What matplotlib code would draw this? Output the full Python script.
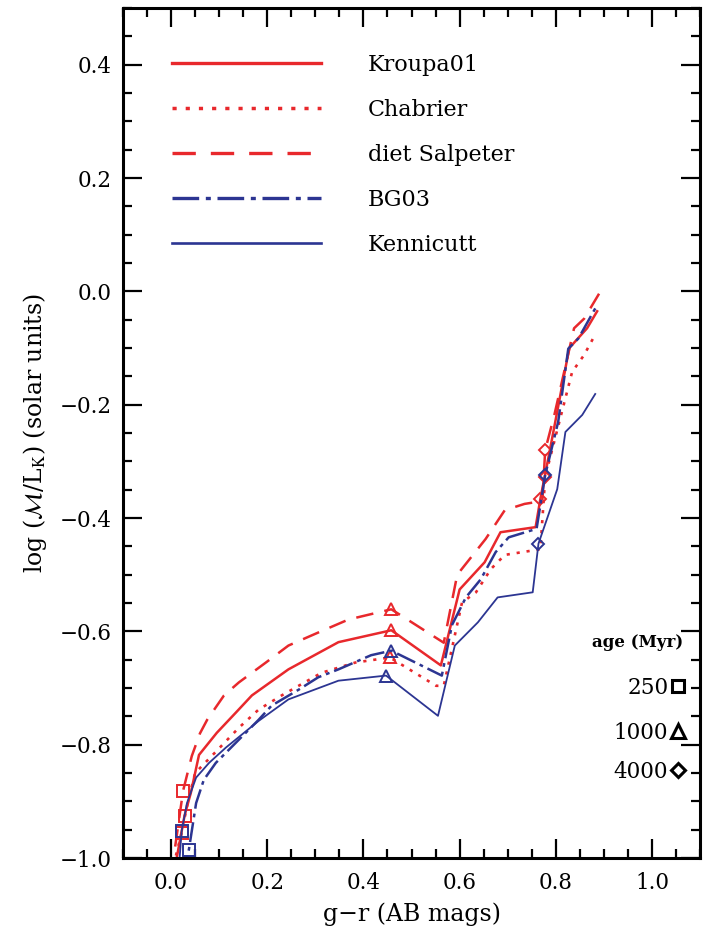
import matplotlib
matplotlib.use("Agg")
import matplotlib.pyplot as plt
from matplotlib.lines import Line2D
from matplotlib.ticker import MultipleLocator

plt.rcParams['font.family'] = ['DejaVu Serif']
plt.rcParams['mathtext.fontset'] = 'stix'

# g-r colour and log(M/L_K) tracks
kroupa_x = [0.005, 0.028, 0.041, 0.058, 0.095, 0.135, 0.168, 0.244, 0.348, 0.458,
            0.561, 0.600, 0.652, 0.685, 0.758, 0.768, 0.790, 0.828, 0.865, 0.886]
kroupa_y = [-1.03, -0.925, -0.885, -0.818, -0.779, -0.743, -0.713, -0.667, -0.619, -0.598,
            -0.660, -0.526, -0.478, -0.425, -0.416, -0.366, -0.270, -0.100, -0.065, -0.035]

chabrier_x = [0.000, 0.022, 0.035, 0.050, 0.090, 0.141, 0.182, 0.230, 0.313, 0.383, 0.455,
              0.551, 0.567, 0.605, 0.634, 0.665, 0.694, 0.768, 0.778, 0.818, 0.834, 0.859, 0.882]
chabrier_y = [-1.03, -0.955, -0.900, -0.850, -0.815, -0.770, -0.738, -0.713, -0.673, -0.655, -0.646,
              -0.696, -0.696, -0.549, -0.531, -0.490, -0.465, -0.455, -0.327, -0.195, -0.142, -0.112, -0.076]

salpeter_x = [0.000, 0.025, 0.043, 0.060, 0.075, 0.110, 0.141, 0.197, 0.244, 0.306, 0.369, 0.458,
              0.567, 0.595, 0.654, 0.694, 0.735, 0.772, 0.778, 0.797, 0.838, 0.859, 0.890]
salpeter_y = [-1.03, -0.881, -0.820, -0.780, -0.756, -0.713, -0.690, -0.655, -0.625, -0.602, -0.579, -0.561,
              -0.620, -0.500, -0.437, -0.386, -0.375, -0.370, -0.280, -0.218, -0.065, -0.048, -0.004]

bg03_x = [0.025, 0.037, 0.052, 0.068, 0.093, 0.120, 0.182, 0.209, 0.265, 0.306, 0.348, 0.416, 0.458,
          0.563, 0.584, 0.613, 0.644, 0.675, 0.702, 0.760, 0.778, 0.805, 0.826, 0.847, 0.884]
bg03_y = [-1.03, -0.985, -0.903, -0.862, -0.832, -0.809, -0.756, -0.731, -0.703, -0.681, -0.667, -0.642, -0.634,
          -0.678, -0.589, -0.540, -0.508, -0.460, -0.434, -0.419, -0.324, -0.230, -0.101, -0.083, -0.027]

kenn_x = [0.015, 0.022, 0.033, 0.052, 0.079, 0.114, 0.182, 0.244, 0.348, 0.447,
          0.555, 0.590, 0.638, 0.679, 0.752, 0.764, 0.803, 0.820, 0.855, 0.882]
kenn_y = [-1.03, -0.952, -0.903, -0.858, -0.832, -0.805, -0.758, -0.720, -0.687, -0.678,
          -0.749, -0.625, -0.584, -0.540, -0.531, -0.445, -0.349, -0.248, -0.218, -0.181]

# age markers: 250, 1000, 4000 Myr
kroupa_age_x = [0.028, 0.458, 0.768]
kroupa_age_y = [-0.925, -0.598, -0.366]
chabrier_age_x = [0.022, 0.455, 0.778]
chabrier_age_y = [-0.955, -0.646, -0.327]
salpeter_age_x = [0.025, 0.458, 0.778]
salpeter_age_y = [-0.881, -0.561, -0.280]
bg03_age_x = [0.037, 0.458, 0.778]
bg03_age_y = [-0.985, -0.634, -0.324]
kenn_age_x = [0.022, 0.447, 0.764]
kenn_age_y = [-0.952, -0.678, -0.445]

ages = ['250', '1000', '4000']
age_markers = ['s', '^', 'D']
age_msize = [8, 9, 6.5]

red = '#e8282c'
blue = '#2c3592'

models = [
    ('Kroupa01', kroupa_x, kroupa_y, kroupa_age_x, kroupa_age_y, red, '-', 1.8),
    ('Chabrier', chabrier_x, chabrier_y, chabrier_age_x, chabrier_age_y, red, (0, (1.2, 2.6)), 1.9),
    ('diet Salpeter', salpeter_x, salpeter_y, salpeter_age_x, salpeter_age_y, red, (0, (7, 4.5)), 1.8),
    ('BG03', bg03_x, bg03_y, bg03_age_x, bg03_age_y, blue, (0, (8, 2, 1.5, 2)), 1.8),
    ('Kennicutt', kenn_x, kenn_y, kenn_age_x, kenn_age_y, blue, '-', 1.3),
]

fig = plt.figure(figsize=(7.03, 9.36), dpi=100)
ax = fig.add_axes([0.175, 0.0833, 0.8208, 0.908])

handles = []
for name, x, y, ax_x, ax_y, c, ls, lw in models:
    ax.plot(x, y, color=c, ls=ls, lw=lw, clip_on=True)
    for i in range(3):
        ax.plot(ax_x[i], ax_y[i], ls='none', marker=age_markers[i], ms=age_msize[i],
                mfc='none', mec=c, mew=1.4)
    handles.append(Line2D([], [], color=c, ls=ls, lw=lw + 0.6, label=name))

ax.set_xlim(-0.1, 1.1)
ax.set_ylim(-1.0, 0.5)
ax.xaxis.set_major_locator(MultipleLocator(0.2))
ax.xaxis.set_minor_locator(MultipleLocator(0.05))
ax.yaxis.set_major_locator(MultipleLocator(0.2))
ax.yaxis.set_minor_locator(MultipleLocator(0.05))
ax.tick_params(which='both', direction='in', top=True, right=True, labelsize=15.5, width=1.6)
ax.tick_params(which='major', length=14)
ax.tick_params(which='minor', length=6.5)
ax.tick_params(axis='x', pad=10)
ax.tick_params(axis='y', pad=8)
for s in ax.spines.values():
    s.set_linewidth(2.2)

ax.set_xlabel('g\u2212r (AB mags)', fontsize=17, labelpad=6)
ax.set_ylabel(r'log ($\mathcal{M}$/L$_{\rm K}$) (solar units)', fontsize=17, labelpad=8)

leg = ax.legend(handles=handles, loc='upper left', bbox_to_anchor=(0.085, 0.946),
                frameon=False, fontsize=16, handlelength=6.7, handletextpad=2.1,
                labelspacing=1.03, borderpad=0, borderaxespad=0)

# age key
ax.text(0.891, 0.254, 'age (Myr)', transform=ax.transAxes, ha='center', va='center',
        fontsize=12, fontweight='bold')
key_y = [0.200, 0.147, 0.101]
for i in range(3):
    ax.text(0.945, key_y[i], ages[i], transform=ax.transAxes, ha='right', va='center', fontsize=15.5)
    ax.plot(0.962, key_y[i] + 0.002, transform=ax.transAxes, marker=age_markers[i],
            ms=age_msize[i] + 1, mfc='none', mec='black', mew=2.2, ls='none', clip_on=False)

fig.savefig('out.png', dpi=100)
